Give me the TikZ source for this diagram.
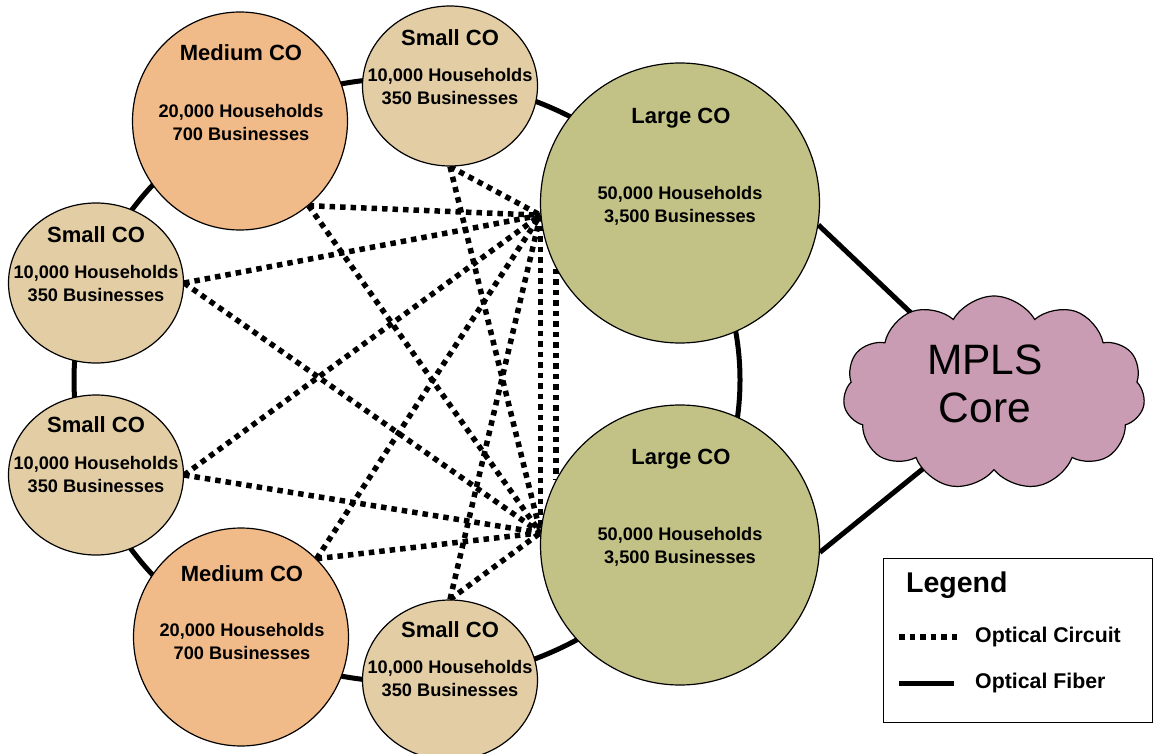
\documentclass[tikz,border=0pt]{standalone}
\usepackage{fontspec}
\setmainfont{Liberation Sans}
\usetikzlibrary{shapes.geometric,shapes.symbols,backgrounds}
\definecolor{medc}{RGB}{240,186,137}
\definecolor{smallc}{RGB}{226,205,165}
\definecolor{largec}{RGB}{194,194,135}
\definecolor{cloudc}{RGB}{202,156,179}
\begin{document}
\begin{tikzpicture}[x=1pt,y=-1pt,
  co/.style={ellipse, draw=black, line width=1.2pt, inner sep=0pt},
  medco/.style={co, fill=medc, minimum width=215pt, minimum height=218pt},
  smallco/.style={co, fill=smallc, minimum width=175pt, minimum height=160pt},
  largeco/.style={co, fill=largec, minimum width=279pt, minimum height=280pt},
  cotitle/.style={font=\bfseries\fontsize{22}{25}\selectfont, inner sep=0pt},
  coinfo/.style={font=\bfseries\fontsize{18.2}{23}\selectfont, align=center, inner sep=0pt},
  circuit/.style={line width=5.5pt, dash pattern=on 5.5pt off 5pt},
  fiber/.style={line width=5pt},
  legtext/.style={font=\bfseries\fontsize{21.3}{24}\selectfont, anchor=west, inner sep=0pt},
]
\useasboundingbox (0,0) rectangle (1153,754);

% Central offices
\node[medco]   (MT)  at (240,121) {};
\node[smallco] (ST)  at (450,86)  {};
\node[largeco] (LT)  at (680,203) {};
\node[smallco] (SL1) at (96,283)  {};
\node[smallco] (SL2) at (96,475)  {};
\node[largeco] (LB)  at (680,545) {};
\node[medco]   (MB)  at (241,637) {};
\node[smallco] (SB)  at (450,680) {};

\node[cotitle] at (241,53)  {Medium CO};
\node[coinfo]  at (241,122) {20,000 Households\\700 Businesses};
\node[cotitle] at (450,38)  {Small CO};
\node[coinfo]  at (450,86.5) {10,000 Households\\350 Businesses};
\node[cotitle] at (681,118) {Large CO};
\node[coinfo]  at (680,206) {50,000 Households\\3,500 Businesses};
\node[cotitle] at (96,235)  {Small CO};
\node[coinfo]  at (96,283.5) {10,000 Households\\350 Businesses};
\node[cotitle] at (96,425)  {Small CO};
\node[coinfo]  at (96,475)  {10,000 Households\\350 Businesses};
\node[cotitle] at (681,459) {Large CO};
\node[coinfo]  at (680,546.5) {50,000 Households\\3,500 Businesses};
\node[cotitle] at (242,574) {Medium CO};
\node[coinfo]  at (242,641) {20,000 Households\\700 Businesses};
\node[cotitle] at (450,630) {Small CO};
\node[coinfo]  at (450,679) {10,000 Households\\350 Businesses};

% MPLS core cloud
\node[cloud, draw=black, line width=1.2pt, fill=cloudc, cloud puffs=11, cloud puff arc=120,
      aspect=1.6, minimum width=302pt, minimum height=194pt, inner sep=0pt] (core) at (994,393) {};
\node[font=\fontsize{42.5}{48}\selectfont, align=center, inner sep=0pt] at (985,384) {MPLS\\Core};
\coordinate (cin1) at (930,331);
\coordinate (cin2) at (935,459);

% Legend
\node[draw=black, line width=1.2pt, minimum width=269pt, minimum height=164pt,
      anchor=north west, inner sep=0pt] (legend) at (883,558) {};
\node[font=\bfseries\fontsize{28.5}{32}\selectfont, anchor=west, inner sep=0pt] at (906,585) {Legend};
\coordinate (lc1) at (899,637);
\coordinate (lc2) at (957,637);
\coordinate (lf1) at (899,683);
\coordinate (lf2) at (954,683);
\draw[circuit] (lc1) -- (lc2);
\draw[fiber] (lf1) -- (lf2);
\node[legtext] at (975,637) {Optical Circuit};
\node[legtext] at (975,683) {Optical Fiber};

\begin{scope}[on background layer]
  % fiber ring
  \coordinate (ring) at (407,380);
  \draw[fiber] (ring) ellipse [x radius=333, y radius=302];
  % fiber to core
  \draw[fiber] (LT.-9) -- (cin1);
  \draw[fiber] (LB.-3) -- (cin2);
  % optical circuits
  \draw[circuit] (MT.-51)   -- (LT.185);
  \draw[circuit] (ST.south) -- (LT.185);
  \draw[circuit] (SL1.east) -- (LT.185);
  \draw[circuit] (SL2.east) -- (LT.185);
  \draw[circuit] (MB.46)    -- (LT.185);
  \draw[circuit] (SB.north) -- (LT.185);
  \draw[circuit] (LT.185) -- (LB.175);
  \draw[circuit] (LT.208) -- (LB.152);
  \draw[circuit] (MT.-51)   -- (LB.175);
  \draw[circuit] (ST.south) -- (LB.175);
  \draw[circuit] (SL1.east) -- (LB.175);
  \draw[circuit] (SL2.east) -- (LB.175);
  \draw[circuit] (MB.46)    -- (LB.175);
  \draw[circuit] (SB.north) -- (LB.175);
\end{scope}
\end{tikzpicture}
\end{document}
